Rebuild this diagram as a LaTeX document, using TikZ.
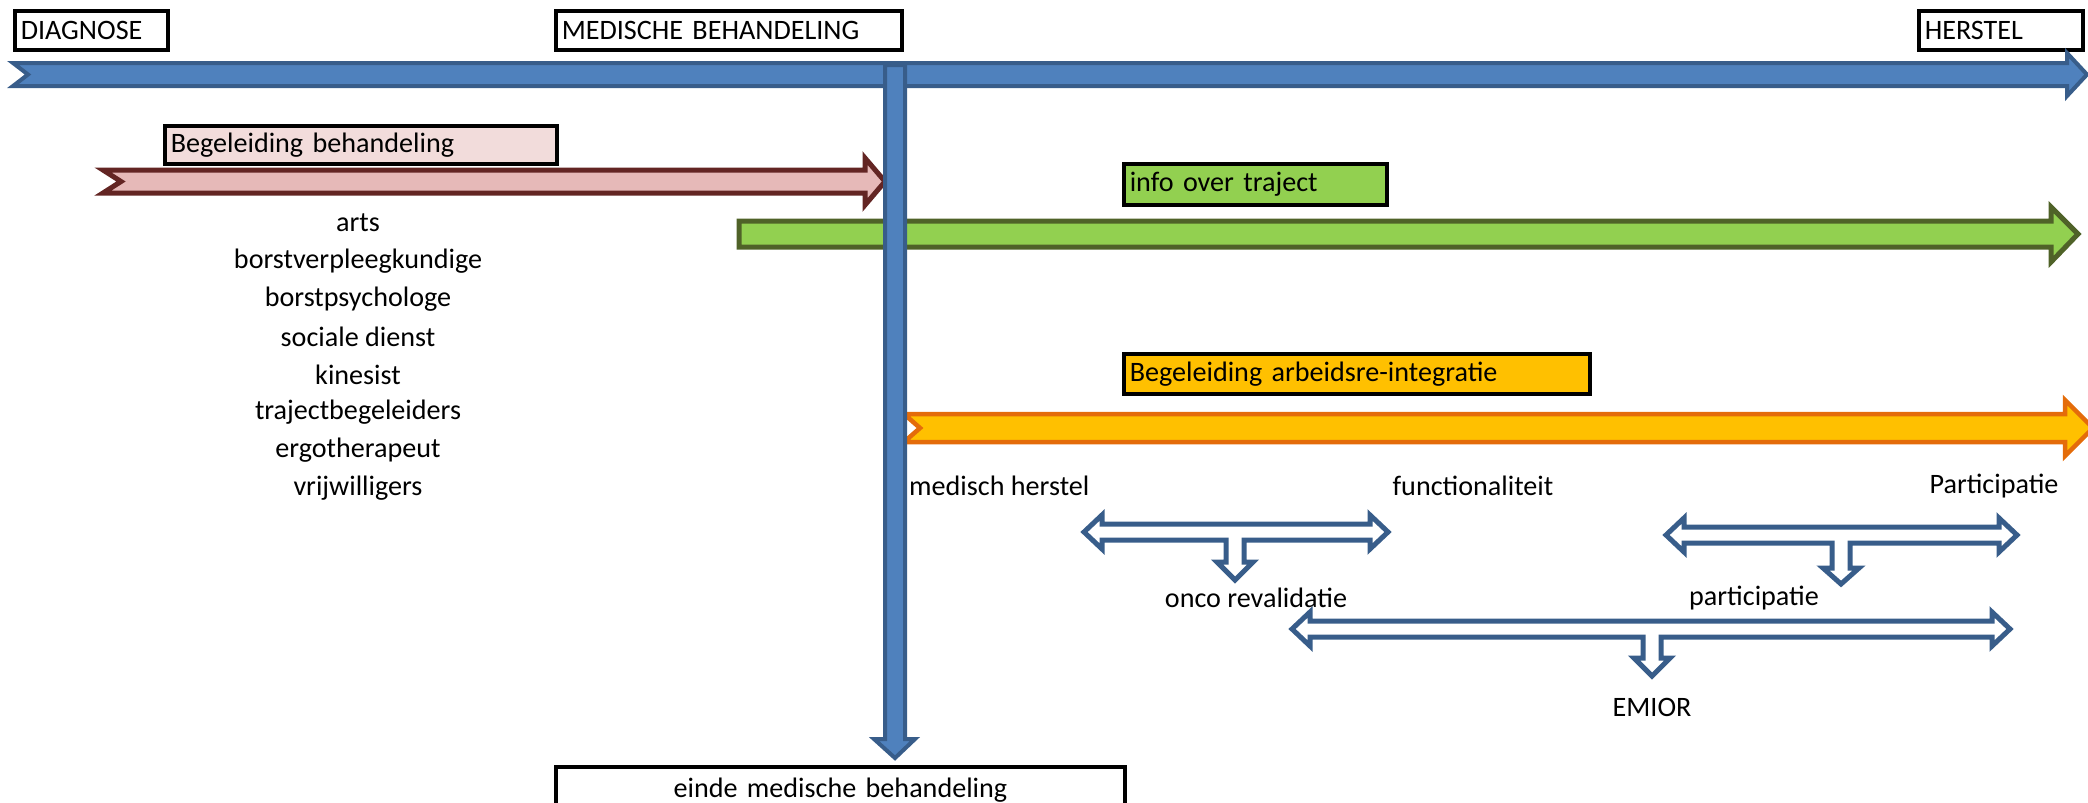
\documentclass[tikz,border=0pt]{standalone}
\usepackage{fontspec}
\setmainfont{Carlito}
\usetikzlibrary{positioning}

\definecolor{bluefill}{HTML}{4F81BD}
\definecolor{blueline}{HTML}{385D8A}
\definecolor{pinkfill}{HTML}{E6B9B8}
\definecolor{pinkline}{HTML}{632523}
\definecolor{pinkbox}{HTML}{F2DCDB}
\definecolor{greenfill}{HTML}{92D050}
\definecolor{greenline}{HTML}{4F6228}
\definecolor{orangefill}{HTML}{FFC000}
\definecolor{orangeline}{HTML}{E46C0A}

\tikzset{
  tagbox/.style={draw=black, line width=1pt, anchor=north west, inner xsep=0.06cm,
    inner ysep=0pt, align=left, font=\fontsize{8}{9.6}\selectfont},
  plain/.style={font=\fontsize{8}{9.6}\selectfont, inner sep=1pt},
  twoway/.style={draw=blueline, line width=0.05cm, fill=white, line join=miter}
}

% open double arrow with a stem: left tip, right tip, shaft y, stem x, stem head base y, stem tip y
\newcommand\splitarrow[6]{%
  \draw[twoway] (#1,#3) -- (#1+18,#3-17) -- (#1+18,#3-8) -- (#2-18,#3-8) -- (#2-18,#3-17)
    -- (#2,#3) -- (#2-18,#3+17) -- (#2-18,#3+8) -- (#4+9,#3+8) -- (#4+9,#5) -- (#4+18,#5)
    -- (#4,#6) -- (#4-18,#5) -- (#4-9,#5) -- (#4-9,#3+8) -- (#1+18,#3+8) -- (#1+18,#3+17) -- cycle;}

\begin{document}
\begin{tikzpicture}[x=0.01cm, y=-0.01cm]
  \useasboundingbox (0,0) rectangle (2088,802);

  % phases
  \node[tagbox, minimum width=1.53cm, minimum height=0.39cm, text width=1.41cm] (diag) at (13,9) {DIAGNOSE};
  \node[tagbox, minimum width=3.46cm, minimum height=0.39cm, text width=3.34cm] (medbeh) at (554,9) {MEDISCHE BEHANDELING};
  \node[tagbox, minimum width=1.64cm, minimum height=0.39cm, text width=1.52cm] (herstel) at (1917,9) {HERSTEL};

  % time line
  \filldraw[fill=bluefill, draw=blueline, line width=0.04cm]
    (13,63) -- (2067,63) -- (2067,53) -- (2087,74.5) -- (2067,96) -- (2067,86) -- (13,86) -- (28,74.5) -- cycle;

  % begeleiding behandeling
  \node[tagbox, fill=pinkbox, minimum width=3.92cm, minimum height=0.38cm, text width=3.8cm] (begbeh) at (163,124) {Begeleiding behandeling};
  \filldraw[fill=pinkfill, draw=pinkline, line width=0.05cm]
    (103,170) -- (865,170) -- (865,158) -- (885,181.5) -- (865,205) -- (865,193) -- (103,193) -- (121,181.5) -- cycle;

  % info over traject
  \node[tagbox, fill=greenfill, minimum width=2.63cm, minimum height=0.41cm, text width=2.51cm] (info) at (1122,162) {info over traject};
  \filldraw[fill=greenfill, draw=greenline, line width=0.05cm]
    (739,221) -- (2051,221) -- (2051,207) -- (2078,234) -- (2051,262) -- (2051,247) -- (739,247) -- cycle;

  % arbeidsre-integratie
  \node[tagbox, fill=orangefill, minimum width=4.66cm, minimum height=0.40cm, text width=4.54cm] (arbeid) at (1122,352) {Begeleiding arbeidsre-integratie};
  \filldraw[fill=orangefill, draw=orangeline, line width=0.045cm]
    (904,414) -- (2065,414) -- (2065,400) -- (2093,428) -- (2065,456) -- (2065,442) -- (904,442) -- (920,428) -- cycle;

  % einde medische behandeling
  \filldraw[fill=bluefill, draw=blueline, line width=0.04cm]
    (885,65) -- (905,65) -- (905,739) -- (915,739) -- (895,758) -- (874,739) -- (885,739) -- cycle;
  \node[tagbox, minimum width=5.69cm, minimum height=0.46cm, text width=5.57cm, align=center] (einde) at (554,765) {einde medische behandeling};

  % wie begeleidt
  \foreach \wie [count=\i from 0] in {arts, borstverpleegkundige, borstpsychologe, sociale dienst,
      kinesist, trajectbegeleiders, ergotherapeut, vrijwilligers}
    \node[plain] (wie\i) at (358,223+37.9*\i) {\wie};

  % fasen herstel
  \node[plain, anchor=west] (medher) at (905,486) {medisch herstel};
  \node[plain] (func) at (1473,486) {functionaliteit};
  \node[plain] (Part) at (1994,486) {Participatie};

  \splitarrow{1084}{1388}{532}{1235}{562}{580}
  \splitarrow{1666}{2017}{535}{1841}{568}{584}
  \splitarrow{1292}{2010}{629}{1652}{658}{676}

  \node[plain] (onco) at (1256,598) {onco revalidatie};
  \node[plain] (part) at (1754,598) {participatie};
  \node[plain] (emior) at (1652,707) {EMIOR};
\end{tikzpicture}
\end{document}
